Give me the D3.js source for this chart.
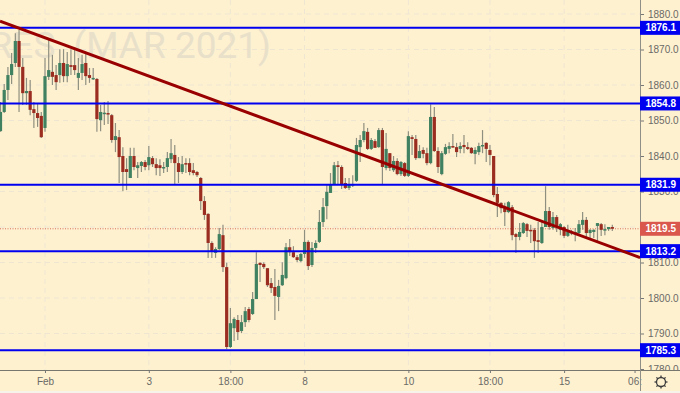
<!DOCTYPE html>
<html>
<head>
<meta charset="utf-8">
<script src="https://cdnjs.cloudflare.com/ajax/libs/d3/7.8.5/d3.min.js"></script>
<style>
  html, body { margin: 0; padding: 0; background: #fef1d0; overflow: hidden; }
  text { font-family: "Liberation Sans", Arial, sans-serif; }
</style>
</head>
<body>
<div id="chart"></div>
<script>
// candles (one per time step)
const opens = [
  1847.0,1852.4,1858.6,1862.8,1866.2,1872.4,1865.1,1857.7,1858.3,1853.2,
  1852.1,1851.3,1847.9,1862.3,1863.7,1862.8,1862.8,1866.2,1862.5,1865.6,
  1865.6,1862.0,1863.4,1866.2,1862.8,1861.7,1861.7,1850.1,1852.1,1852.1,
  1851.5,1844.5,1845.3,1840.0,1836.3,1833.8,1840.0,1836.6,1837.2,1838.3,
  1837.4,1839.4,1837.7,1837.4,1836.6,1836.9,1839.1,1840.3,1838.0,1835.5,
  1838.0,1838.0,1836.0,1835.5,1833.8,1827.3,1823.7,1815.5,1812.7,1813.8,
  1817.7,1808.7,1786.2,1791.5,1793.8,1790.7,1793.2,1796.9,1795.5,1799.7,
  1809.9,1809.6,1808.4,1804.2,1803.1,1800.3,1803.6,1805.6,1814.3,1812.9,
  1811.5,1810.4,1812.4,1815.8,1809.3,1814.1,1815.8,1821.4,1825.9,1829.6,
  1832.1,1837.4,1836.9,1832.4,1831.0,1831.8,1833.0,1842.5,1844.5,1846.8,
  1842.0,1844.2,1842.5,1847.3,1836.6,1840.8,1836.0,1838.6,1834.9,1838.0,
  1834.4,1845.3,1844.8,1839.4,1841.7,1840.8,1838.0,1851.0,1841.4,1834.9,
  1840.6,1842.0,1842.8,1842.5,1842.0,1843.1,1842.5,1842.3,1840.6,1841.1,
  1842.8,1843.7,1841.7,1840.0,1829.3,1826.8,1825.3,1824.2,1825.6,1818.0,
  1817.2,1818.3,1820.8,1819.2,1819.2,1816.3,1815.5,1820.0,1824.5,1819.7,
  1822.8,1819.2,1820.0,1817.5,1818.3,1818.3,1818.3,1820.6,1822.0,1818.3,
  1818.6,1820.3,1820.8,1819.2,1819.4,1820.0
];
const highs = [
  1855.2,1860.3,1865.1,1869.0,1874.6,1875.5,1867.6,1862.0,1861.4,1855.2,
  1854.9,1852.4,1867.6,1872.7,1868.5,1865.6,1870.1,1870.1,1869.3,1870.1,
  1870.7,1867.6,1868.5,1869.0,1864.8,1864.8,1862.0,1854.4,1855.2,1855.5,
  1851.8,1849.3,1847.3,1842.5,1839.4,1842.3,1842.3,1838.3,1838.6,1838.9,
  1842.8,1840.0,1839.4,1839.1,1838.3,1841.1,1844.8,1843.1,1839.7,1840.0,
  1839.4,1839.4,1838.0,1835.8,1834.1,1828.7,1823.9,1816.0,1814.3,1819.7,
  1820.6,1809.9,1797.2,1794.6,1795.2,1795.2,1797.5,1797.5,1801.7,1812.9,
  1810.1,1810.1,1808.4,1805.6,1808.2,1805.1,1810.1,1815.5,1816.6,1814.6,
  1812.1,1812.7,1819.2,1816.3,1815.8,1816.3,1824.8,1828.2,1831.8,1835.2,
  1838.3,1838.6,1837.4,1833.8,1833.8,1834.6,1845.1,1845.9,1849.3,1847.9,
  1845.1,1844.8,1847.9,1847.9,1846.5,1840.8,1840.0,1839.4,1838.6,1838.3,
  1847.0,1845.9,1845.9,1843.1,1842.5,1842.3,1854.6,1853.8,1842.5,1841.4,
  1843.4,1843.9,1846.2,1843.7,1843.9,1845.9,1843.9,1842.5,1842.5,1843.7,
  1847.3,1843.9,1843.1,1840.0,1831.3,1827.0,1826.8,1827.3,1826.2,1818.3,
  1821.1,1821.4,1821.1,1820.6,1819.7,1821.4,1821.4,1831.5,1825.6,1824.2,
  1823.4,1821.1,1820.3,1820.6,1819.2,1819.7,1822.0,1824.2,1822.8,1819.4,
  1819.4,1821.1,1821.1,1820.8,1820.0,1820.6
];
const lows = [
  1846.8,1852.1,1855.8,1860.3,1865.1,1852.4,1854.4,1854.4,1851.5,1847.9,
  1848.2,1845.1,1846.8,1861.4,1860.0,1858.6,1860.6,1860.8,1860.8,1862.8,
  1862.8,1858.6,1861.4,1860.0,1860.6,1861.4,1846.8,1847.0,1848.7,1849.0,
  1843.7,1841.1,1832.4,1830.1,1830.4,1833.8,1836.0,1833.8,1835.5,1836.0,
  1836.0,1836.9,1834.6,1834.4,1835.2,1835.5,1838.0,1832.1,1832.4,1834.9,
  1835.2,1834.6,1834.6,1834.1,1824.8,1822.0,1811.3,1811.3,1811.3,1813.5,
  1807.3,1785.6,1785.9,1787.9,1788.2,1790.1,1791.8,1793.2,1795.2,1799.7,
  1804.5,1808.2,1803.1,1801.4,1793.8,1796.3,1803.4,1805.3,1811.8,1811.3,
  1810.1,1810.1,1811.3,1807.9,1808.7,1812.7,1815.5,1820.0,1822.2,1829.6,
  1831.8,1831.8,1830.7,1830.7,1830.4,1831.3,1832.7,1838.3,1843.9,1841.7,
  1841.7,1842.3,1842.3,1832.1,1836.0,1835.8,1835.5,1834.6,1834.4,1834.1,
  1834.1,1840.3,1838.9,1839.4,1839.4,1837.4,1837.7,1841.1,1835.2,1834.6,
  1840.3,1840.8,1842.3,1839.7,1840.8,1840.8,1841.7,1840.6,1837.7,1840.3,
  1840.8,1838.3,1837.4,1828.4,1822.8,1823.9,1820.3,1823.9,1816.3,1812.7,
  1816.3,1818.0,1817.2,1815.5,1811.3,1812.7,1815.2,1820.0,1819.2,1819.2,
  1818.6,1817.7,1816.9,1817.2,1817.7,1816.0,1817.7,1819.2,1816.9,1816.9,
  1816.9,1816.0,1817.5,1817.7,1818.9,1818.9
];
const closes = [
  1852.4,1858.6,1862.8,1865.9,1872.4,1865.1,1857.7,1858.3,1853.0,1852.1,
  1850.7,1845.3,1862.5,1864.2,1862.3,1860.8,1866.2,1862.5,1865.9,1865.1,
  1864.2,1863.4,1865.9,1862.5,1862.0,1862.0,1850.4,1852.4,1852.2,1852.0,
  1844.5,1845.6,1839.7,1835.5,1835.5,1840.0,1836.9,1837.4,1838.3,1836.9,
  1839.7,1837.7,1836.6,1836.6,1836.9,1839.4,1840.8,1838.0,1835.5,1837.7,
  1837.7,1835.5,1835.2,1834.6,1827.3,1823.4,1815.5,1813.2,1813.8,1818.0,
  1808.7,1786.2,1792.9,1794.1,1790.4,1793.2,1796.3,1793.8,1799.7,1809.6,
  1809.3,1808.7,1803.6,1802.8,1800.6,1803.4,1806.5,1814.3,1812.9,1811.5,
  1810.7,1812.4,1815.8,1809.0,1814.1,1815.5,1821.4,1825.6,1829.9,1832.1,
  1837.4,1836.9,1832.1,1831.0,1832.1,1832.1,1843.1,1844.5,1847.0,1842.0,
  1844.5,1842.3,1847.3,1836.9,1842.0,1836.6,1838.6,1834.9,1838.3,1834.4,
  1845.6,1844.8,1839.4,1841.4,1840.6,1838.0,1851.0,1841.4,1836.9,1840.8,
  1842.5,1842.8,1842.5,1841.1,1842.8,1842.5,1842.0,1840.8,1841.7,1842.8,
  1843.1,1842.0,1840.3,1829.0,1826.8,1825.3,1824.2,1827.0,1817.7,1817.2,
  1818.6,1821.1,1818.9,1818.9,1816.0,1815.8,1820.0,1824.5,1820.0,1822.8,
  1820.3,1820.8,1817.5,1818.6,1818.6,1818.6,1820.8,1822.0,1818.3,1819.2,
  1819.2,1821.1,1819.2,1819.4,1820.0,1819.5
];

// horizontal levels and the drawn trend line
const levels = [1876.1, 1854.8, 1831.9, 1813.2, 1785.3];
const lastPrice = 1819.5;
const trendIdx = [-0.13, 172.5];
const trendPrice = [1878.0, 1811.4];

// axis ticks
const priceTicks = [1880,1870,1860,1850,1840,1830,1820,1810,1800,1790,1780];
const timeTickIdx = [12, 40, 62, 82, 110, 132, 152, 171];
const timeTickLabels = ["Feb", "3", "18:00", "8", "10", "18:00", "15", "06:"];

const width = 680, height = 393;
const plotRight = 640, plotBottom = 370;

const x = d3.scaleLinear().domain([0, 165]).range([0.5, 612.3]);
const y = d3.scaleLinear().domain([1880, 1780]).range([14, 369]);

const svg = d3.select("#chart").append("svg")
    .attr("width", width)
    .attr("height", height)
    .style("display", "block");

svg.append("rect").attr("width", width).attr("height", height).attr("fill", "#fef1d0");
svg.append("rect").attr("y", 391).attr("width", width).attr("height", 2).attr("fill", "#f6f3ea");

const defs = svg.append("defs");
defs.append("clipPath").attr("id", "plot-clip")
  .append("rect").attr("width", plotRight).attr("height", plotBottom);
// this one sits inside the translated axis group
defs.append("clipPath").attr("id", "yaxis-clip")
  .append("rect").attr("x", -1).attr("width", 41).attr("height", plotBottom);

// grid
const grid = svg.append("g").attr("stroke", "#efe6d2").attr("stroke-dasharray", "5,4");
grid.selectAll(".h").data(priceTicks.slice(0, -1)).enter().append("line")
    .attr("x1", 0).attr("x2", plotRight)
    .attr("y1", d => y(d)).attr("y2", d => y(d));
grid.selectAll(".v").data(timeTickIdx.slice(0, -1)).enter().append("line")
    .attr("x1", d => x(d)).attr("x2", d => x(d))
    .attr("y1", 0).attr("y2", plotBottom);

// watermark, cut off by the left edge
const mark = svg.append("text")
    .attr("x", 271).attr("y", 58)
    .attr("text-anchor", "end")
    .attr("font-size", 37)
    .style("font-family", "Roboto")
    .attr("fill", "#e9e0ca");
mark.append("tspan").text("RES ");
mark.append("tspan").attr("dx", 9).text("(MAR 2021)");

const plot = svg.append("g").attr("clip-path", "url(#plot-clip)");

// last price dotted line
plot.append("line")
    .attr("x1", 0).attr("x2", plotRight)
    .attr("y1", y(lastPrice)).attr("y2", y(lastPrice))
    .attr("stroke", "#d9705f").attr("stroke-width", 1).attr("stroke-dasharray", "1,1.5");

// candles
const candles = plot.selectAll(".candle").data(d3.range(opens.length)).enter().append("g");
candles.append("line")
    .attr("x1", i => x(i)).attr("x2", i => x(i))
    .attr("y1", i => y(highs[i])).attr("y2", i => y(lows[i]))
    .attr("stroke", "#8f8f80").attr("stroke-width", 1.2);
candles.append("rect")
    .attr("x", i => x(i) - 1.6)
    .attr("width", 3.2)
    .attr("y", i => y(Math.max(opens[i], closes[i])))
    .attr("height", i => Math.max(1.5, Math.abs(y(opens[i]) - y(closes[i]))))
    .attr("fill", i => closes[i] >= opens[i] ? "#3f8160" : "#9a2c20");

// levels
plot.selectAll(".level").data(levels).enter().append("line")
    .attr("x1", 0).attr("x2", plotRight)
    .attr("y1", d => y(d)).attr("y2", d => y(d))
    .attr("stroke", "#0000f0").attr("stroke-width", 2);

// trend line
plot.append("line")
    .attr("x1", x(trendIdx[0])).attr("y1", y(trendPrice[0]))
    .attr("x2", x(trendIdx[1])).attr("y2", y(trendPrice[1]))
    .attr("stroke", "#990000").attr("stroke-width", 3);

// right axis
const yAxis = svg.append("g")
    .attr("transform", "translate(" + plotRight + ",0)")
    .attr("clip-path", "url(#yaxis-clip)")
    .call(d3.axisRight(y).tickValues(priceTicks).tickFormat(d3.format(".1f")).tickSize(4).tickPadding(4));
yAxis.select(".domain").remove();
yAxis.selectAll("line").attr("stroke", "#777");
yAxis.selectAll("text").attr("fill", "#6a6a66").attr("font-size", 10).attr("font-family", "Liberation Sans");

// bottom axis
const xAxis = svg.append("g")
    .attr("transform", "translate(0," + plotBottom + ")")
    .call(d3.axisBottom(x).tickValues(timeTickIdx).tickFormat((d, i) => timeTickLabels[i]).tickSize(3).tickPadding(5));
xAxis.select(".domain").remove();
xAxis.selectAll("line").attr("stroke", "#777");
xAxis.selectAll("text").attr("fill", "#6a6a66").attr("font-size", 10).attr("font-family", "Liberation Sans");

svg.append("line").attr("x1", 0).attr("x2", width).attr("y1", plotBottom + 0.5).attr("y2", plotBottom + 0.5).attr("stroke", "#77776f");
svg.append("line").attr("x1", plotRight + 0.5).attr("x2", plotRight + 0.5).attr("y1", 0).attr("y2", height - 2).attr("stroke", "#8f8f88");

// price tags on the axis
function priceTag(v, col) {
  svg.append("rect")
      .attr("x", plotRight).attr("y", y(v) - 7)
      .attr("width", width - plotRight).attr("height", 14)
      .attr("fill", col);
  svg.append("text")
      .attr("x", plotRight + 20.7).attr("y", y(v) + 3.5)
      .attr("text-anchor", "middle")
      .attr("font-size", 10).attr("font-weight", "bold")
      .attr("fill", "#fff")
      .text(v.toFixed(1));
}
levels.forEach(d => priceTag(d, "#0000f0"));
priceTag(lastPrice, "#d9574c");

// settings gear
const gear = svg.append("g").attr("transform", "translate(661,382)");
gear.append("circle").attr("r", 4.5).attr("fill", "none").attr("stroke", "#3c3c3c").attr("stroke-width", 1.3);
gear.selectAll("line").data(d3.range(8)).enter().append("line")
    .attr("x1", d => 4.5 * Math.cos(d * Math.PI / 4)).attr("y1", d => 4.5 * Math.sin(d * Math.PI / 4))
    .attr("x2", d => 6.5 * Math.cos(d * Math.PI / 4)).attr("y2", d => 6.5 * Math.sin(d * Math.PI / 4))
    .attr("stroke", "#3c3c3c").attr("stroke-width", 1.3);
</script>
</body>
</html>
